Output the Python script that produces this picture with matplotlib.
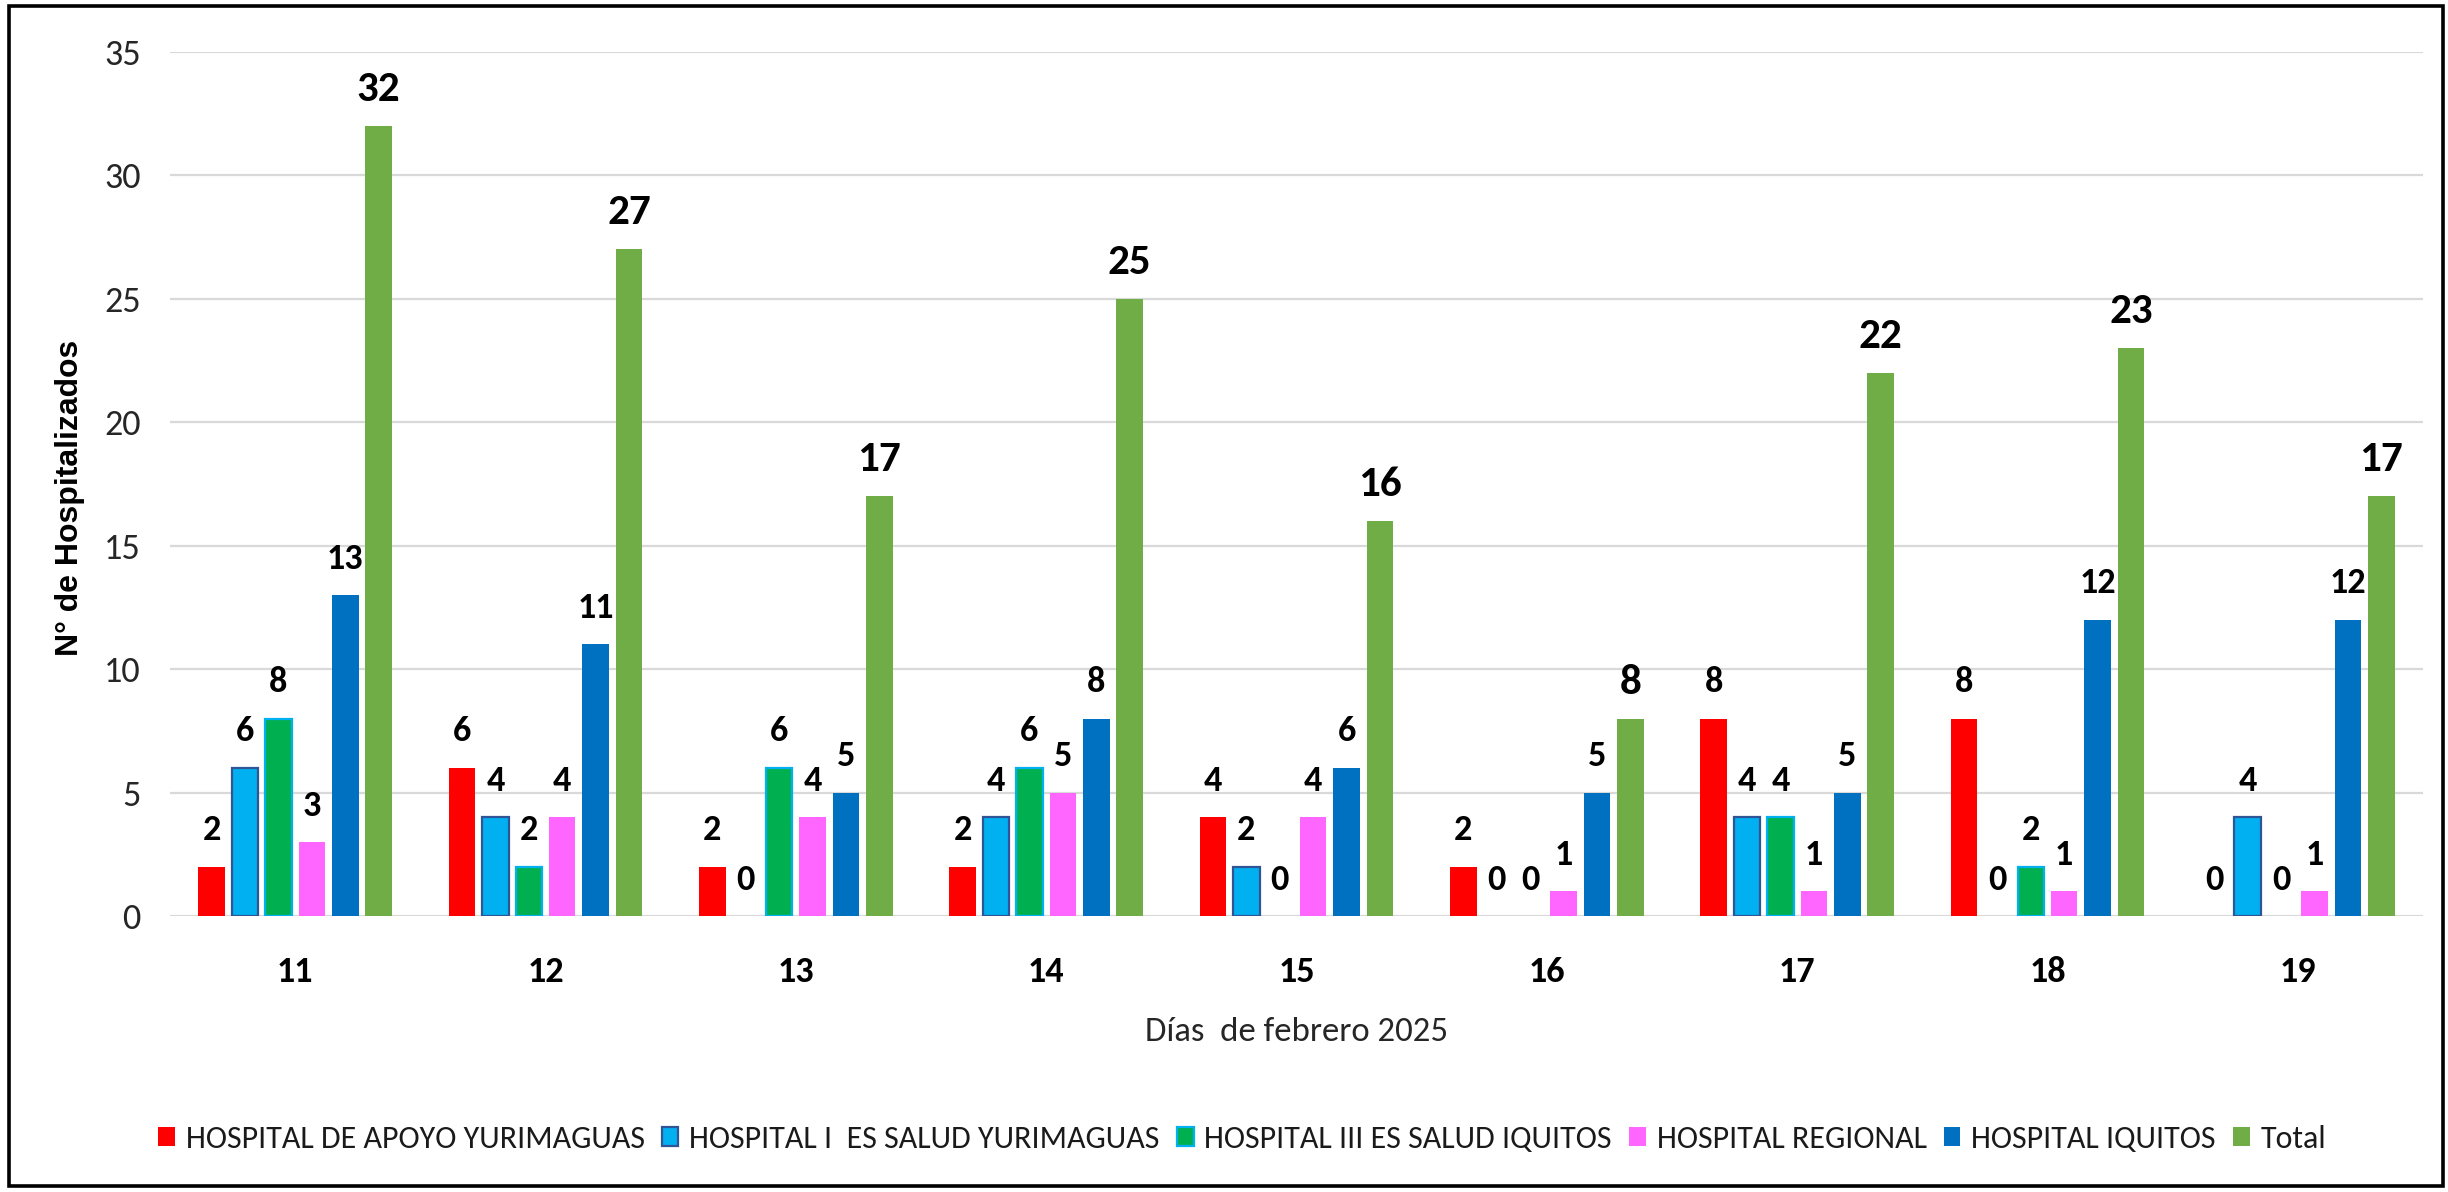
import matplotlib
matplotlib.use("Agg")
import matplotlib.pyplot as plt
from matplotlib import font_manager
from matplotlib.patches import Rectangle
import numpy as np

days = ["11", "12", "13", "14", "15", "16", "17", "18", "19"]
series_names = [
    "HOSPITAL DE APOYO YURIMAGUAS",
    "HOSPITAL I  ES SALUD YURIMAGUAS",
    "HOSPITAL III ES SALUD IQUITOS",
    "HOSPITAL REGIONAL",
    "HOSPITAL IQUITOS",
    "Total",
]
apoyo_yurimaguas = [2, 6, 2, 2, 4, 2, 8, 8, 0]
essalud_yurimaguas = [6, 4, 0, 4, 2, 0, 4, 0, 4]
essalud_iquitos = [8, 2, 6, 6, 0, 0, 4, 2, 0]
regional = [3, 4, 4, 5, 4, 1, 1, 1, 1]
iquitos = [13, 11, 5, 8, 6, 5, 5, 12, 12]
total = [32, 27, 17, 25, 16, 8, 22, 23, 17]
y_ticks = [0, 5, 10, 15, 20, 25, 30, 35]

values = [apoyo_yurimaguas, essalud_yurimaguas, essalud_iquitos, regional, iquitos, total]
faces = ["#FF0000", "#00B0F0", "#00B050", "#FF66FF", "#0070C0", "#70AD47"]
edges = ["#FF0000", "#2F5597", "#00B0F0", "#FF66FF", "#0070C0", "#70AD47"]
edge_w = [0, 1.6, 1.6, 0, 0, 0]
label_size = [26, 26, 26, 26, 26, 31]
label_off = [19, 19, 19, 19, 19, 18]

avail = {f.name for f in font_manager.fontManager.ttflist}
def pick(cands):
    for c in cands:
        if c in avail:
            return c
    return "DejaVu Sans"

main_font = pick(["Carlito", "Calibri", "Liberation Sans Narrow", "IBM Plex Sans Condensed", "Liberation Sans"])
ylab_font = pick(["Liberation Sans", "Arimo", "DejaVu Sans"])
plt.rcParams["font.family"] = [main_font, "DejaVu Sans"]

W, H = 2448, 1192
fig = plt.figure(figsize=(W / 100, H / 100), dpi=100)
left, right, top, bottom = 170, 2423, 52, 916
ax = fig.add_axes([left / W, 1 - bottom / H, (right - left) / W, (bottom - top) / H])

x = np.arange(len(days))
pitch = 0.1334
width = 0.106
for i, (vals, name) in enumerate(zip(values, series_names)):
    pos = x + (i - 2.5) * pitch
    bars = ax.bar(pos, vals, width, color=faces[i], edgecolor=edges[i],
                  linewidth=edge_w[i], label=name, zorder=3)
    for b, v in zip(bars, vals):
        if v == 0:
            b.set_visible(False)
    for p, v in zip(pos, vals):
        ax.annotate(str(v), (p, v), xytext=(0, label_off[i]), textcoords="offset points",
                    ha="center", va="baseline", fontsize=label_size[i], fontweight="bold",
                    color="black", zorder=4)

ax.set_xlim(-0.5, len(days) - 0.5)
ax.set_ylim(0, 35)
ax.set_yticks(y_ticks)
ax.set_xticks(x)
ax.set_xticklabels(days, fontsize=26, fontweight="bold")
ax.tick_params(axis="y", length=0, pad=21, labelsize=26, labelcolor="#262626")
ax.tick_params(axis="x", length=0, pad=29)
ax.grid(axis="y", color="#D9D9D9", linewidth=1.6, zorder=0)
ax.set_axisbelow(True)
for s in ax.spines.values():
    s.set_visible(False)

ax.set_xlabel("Días  de febrero 2025", fontsize=25, va="center", color="#262626")
ax.xaxis.set_label_coords(0.5, (H - 1032 - (H - bottom)) / (bottom - top))
ax.set_ylabel("N° de Hospitalizados", fontsize=23, fontweight="bold", va="center",
              family=[ylab_font, "DejaVu Sans"])
ax.yaxis.set_label_coords((70 - left) / (right - left), (bottom - 498) / (bottom - top))

handles, labels = ax.get_legend_handles_labels()
leg = fig.legend(handles, labels, loc="center", bbox_to_anchor=(1242 / W, 1 - 1139 / H),
                 ncol=6, frameon=False, fontsize=23, handlelength=0.53, handleheight=0.56,
                 handletextpad=0.34, columnspacing=0.53)
for t in leg.get_texts():
    t.set_color("#1A1A1A")

fig.patches.append(Rectangle((9 / W, 6 / H), (2443 - 9) / W, (1186 - 6) / H,
                             transform=fig.transFigure, fill=False,
                             edgecolor="black", linewidth=2.6))

fig.savefig("out.png", dpi=100)
